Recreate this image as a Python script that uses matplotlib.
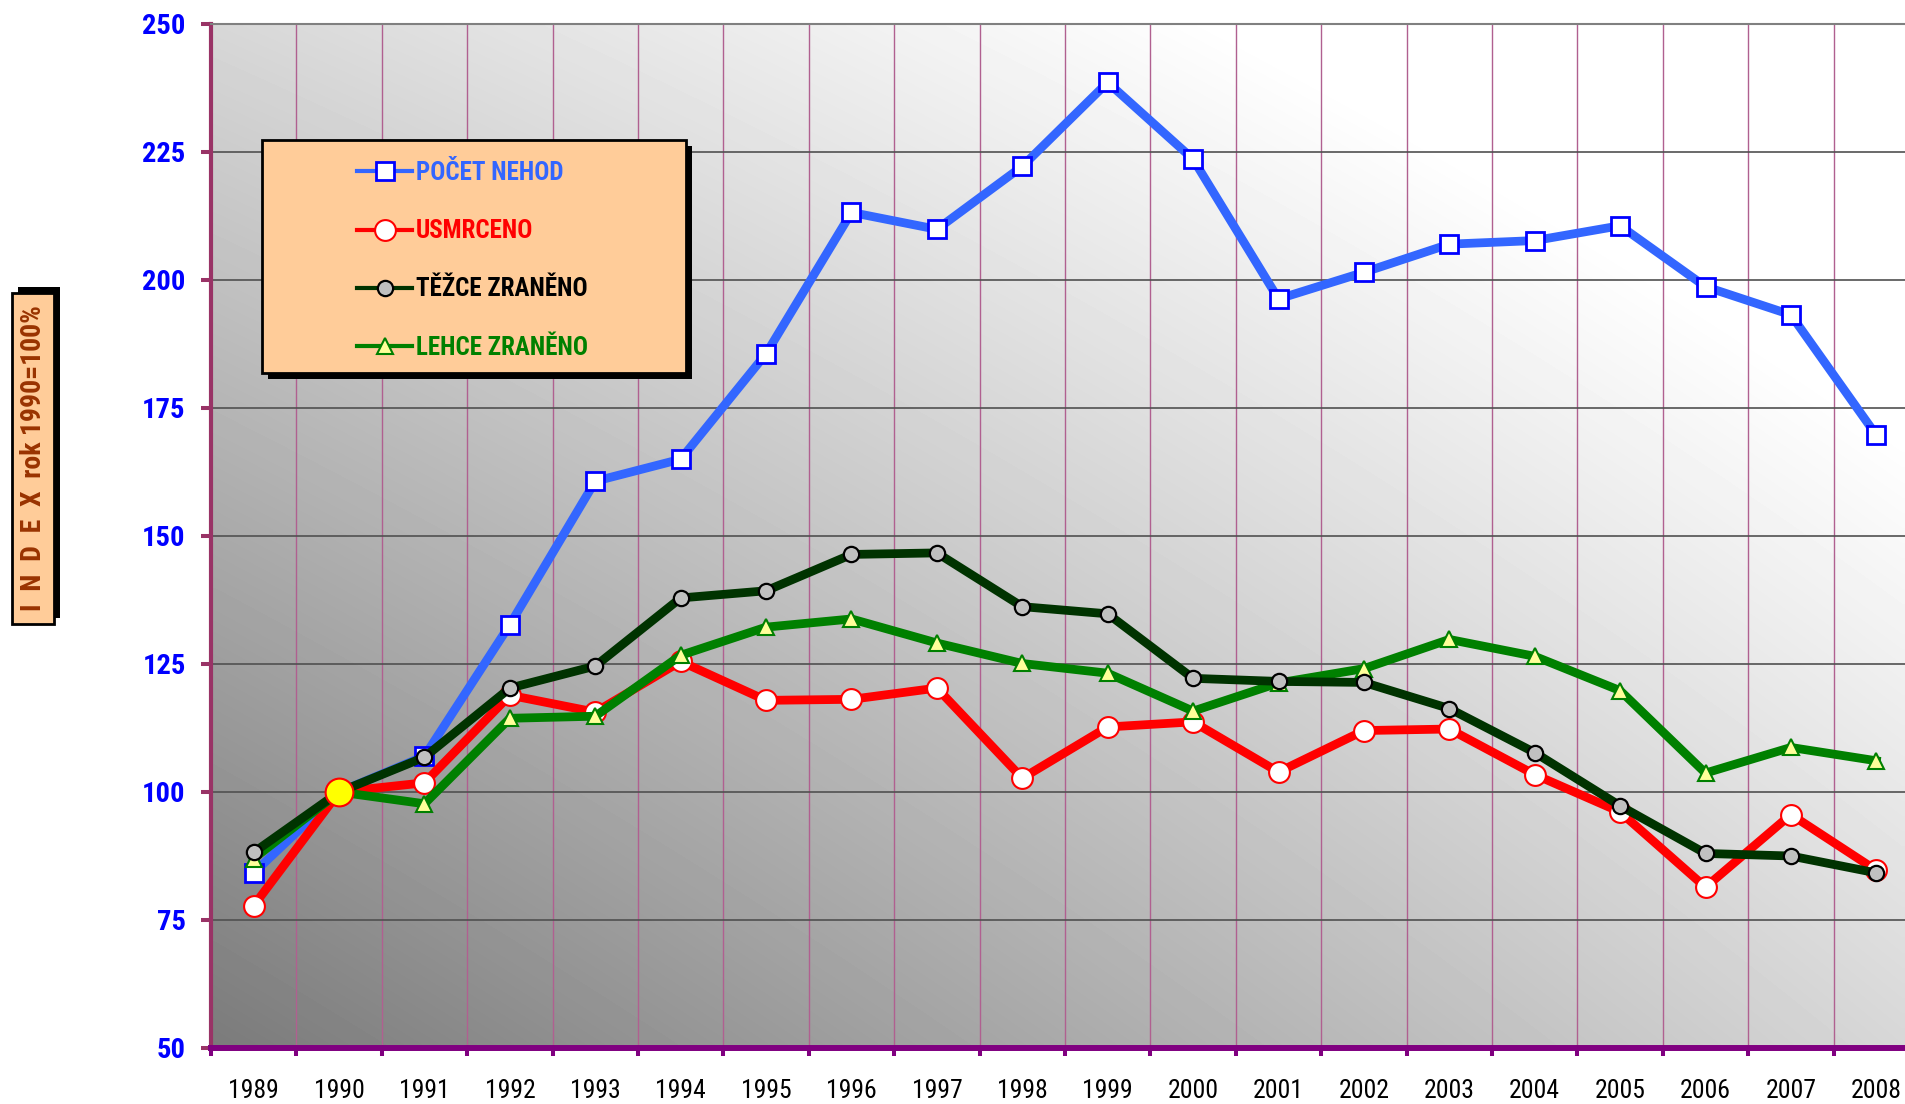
import numpy as np
import matplotlib
matplotlib.use('Agg')
import matplotlib.pyplot as plt
from matplotlib.patches import Rectangle
from matplotlib.lines import Line2D
from matplotlib import font_manager as fm

# Data (index, 1990 = 100 %)
years = [str(y) for y in range(1989, 2009)]
pocet_nehod = [84.2, 100, 107.0, 132.7, 160.7, 165.0, 185.6, 213.2, 209.9, 222.2,
               238.6, 223.6, 196.3, 201.5, 207.0, 207.7, 210.6, 198.7, 193.2, 169.7]
usmrceno = [77.8, 100, 101.8, 118.9, 115.6, 125.5, 117.9, 118.1, 120.3, 102.7,
            112.7, 113.7, 103.9, 112.0, 112.3, 103.4, 96.1, 81.4, 95.6, 84.7]
tezce_zraneno = [88.2, 100, 106.8, 120.3, 124.6, 137.9, 139.3, 146.4, 146.7, 136.2,
                 134.8, 122.2, 121.6, 121.4, 116.3, 107.7, 97.3, 88.0, 87.5, 84.2]
lehce_zraneno = [87.0, 100, 97.7, 114.4, 114.8, 126.7, 132.2, 133.8, 129.1, 125.1,
                 123.2, 115.8, 121.3, 124.1, 129.8, 126.5, 119.8, 103.7, 108.7, 106.1]
labels = ['POČET NEHOD', 'USMRCENO', 'TĚŽCE ZRANĚNO', 'LEHCE ZRANĚNO']
label_colors = ['#3366FF', '#FF0000', '#000000', '#008000']

W, H = 1906, 1104

# pick a narrow font if one is around
narrow = None
for fam, st in [('Liberation Sans Narrow', 'normal'), ('Arial Narrow', 'normal'),
                ('Roboto Condensed', 'normal'), ('DejaVu Sans', 'condensed')]:
    try:
        path = fm.findfont(fm.FontProperties(family=fam, stretch=st), fallback_to_default=False)
        if st == 'normal' or 'ondensed' in path:
            narrow = (fam, st)
            break
    except Exception:
        pass
if narrow is None:
    narrow = ('Liberation Sans', 'normal')
plt.rcParams['font.family'] = [narrow[0], 'DejaVu Sans']
plt.rcParams['font.stretch'] = narrow[1]

fig = plt.figure(figsize=(W / 100, H / 100), dpi=100)
ax = fig.add_axes([211 / W, 56 / H, (W - 211) / W, 1024 / H])
x = np.arange(len(years))
xmax = -0.5 + (W - 211) / 85.4

# gradient background
gx, gy = np.meshgrid(np.linspace(0, 1, 256), np.linspace(0, 1, 256))
g = np.clip((123 + 92 * gx + 92 * gy - 25 * gx * gy) / 255, 0, 1)
ax.imshow(g, cmap='gray', vmin=0, vmax=1, origin='lower', extent=(-0.5, xmax, 50, 250),
          aspect='auto', zorder=0, interpolation='bilinear')

lw = 6.3
styles = [
    dict(color='#3366FF', marker='s', ms=13, mfc='white', mec='#0000FF', mew=2),
    dict(color='#FF0000', marker='o', ms=15, mfc='white', mec='#FF0000', mew=1.5),
    dict(color='#003300', marker='o', ms=11, mfc='#C0C0C0', mec='black', mew=1.6),
    dict(color='#008000', marker='^', ms=12, mfc='#FFFF99', mec='#008000', mew=1.5),
]
ax.plot(x, pocet_nehod, lw=lw, zorder=3, **styles[0])
ax.plot(x, usmrceno, lw=lw, zorder=3, **styles[1])
ax.plot(x, lehce_zraneno, lw=lw, zorder=3, **styles[3])
ax.plot(x, tezce_zraneno, lw=lw, zorder=3, **styles[2])
# base year point
ax.plot(x[1], pocet_nehod[1], 'o', ms=20, mfc='#FFFF00', mec='#FF0000', mew=1.5, zorder=6)

ax.set_xticks(np.arange(-0.5, 20, 1))
ax.set_xticklabels([])
ax.set_xticks(x, minor=True)
ax.set_xticklabels(years, minor=True)
ax.set_yticks(np.arange(50, 251, 25))
ax.set_xlim(-0.5, xmax)
ax.set_ylim(50, 250)

ax.tick_params(axis='x', which='major', direction='out', length=5.8, width=2.9, color='#800080')
ax.tick_params(axis='x', which='minor', length=0, pad=22, labelsize=18.5, labelcolor='black')
ax.tick_params(axis='y', direction='out', length=7.2, width=2.9, color='#993366',
               labelcolor='#0000FF', labelsize=20.5, pad=11)
for t in ax.get_yticklabels():
    t.set_fontweight('bold')

ax.set_axisbelow(True)
ax.grid(axis='x', which='major', color='#B06090', lw=1)
ax.grid(axis='y', color='#505050', lw=1.2)

ax.spines['left'].set_color('#993366')
ax.spines['left'].set_linewidth(3)
ax.spines['bottom'].set_color('#800080')
ax.spines['bottom'].set_linewidth(4.3)
ax.spines['top'].set_color('#808080')
ax.spines['top'].set_linewidth(1.5)
ax.spines['right'].set_visible(False)

# legend box with shadow
fig.add_artist(Rectangle(((262 + 6) / W, (H - 373 - 6) / H), 424 / W, 233 / H,
                         transform=fig.transFigure, facecolor='black', edgecolor='none', zorder=2))
fig.add_artist(Rectangle((262 / W, (H - 373) / H), 424 / W, 233 / H,
                         transform=fig.transFigure, facecolor='#FFCC99', edgecolor='black',
                         lw=2, zorder=3))
handles = [Line2D([], [], lw=3, **s) for s in styles]
leg = fig.legend(handles, labels, loc='upper left', bbox_to_anchor=(357 / W, 1 - 161 / H),
                 frameon=False, prop={'size': 18, 'weight': 'bold'}, handlelength=2.2,
                 handletextpad=0.15, labelspacing=1.37, borderpad=0, borderaxespad=0, numpoints=1)
leg.set_zorder(5)
for t, c in zip(leg.get_texts(), label_colors):
    t.set_color(c)

# y axis title box
fig.add_artist(Rectangle(((12 + 6) / W, (H - 624 + 6) / H), 42 / W, 331 / H,
                         transform=fig.transFigure, facecolor='black', edgecolor='none', zorder=2))
fig.add_artist(Rectangle((12 / W, (H - 624) / H), 42 / W, 331 / H,
                         transform=fig.transFigure, facecolor='#FFCC99', edgecolor='black',
                         lw=2, zorder=3))
fig.text(34 / W, 1 - 458.5 / H, 'I  N  D  E  X  rok 1990=100%', rotation=90, ha='center',
         va='center', fontsize=20, fontweight='bold', color='#993300', zorder=5)

fig.savefig('out.png', dpi=100)
